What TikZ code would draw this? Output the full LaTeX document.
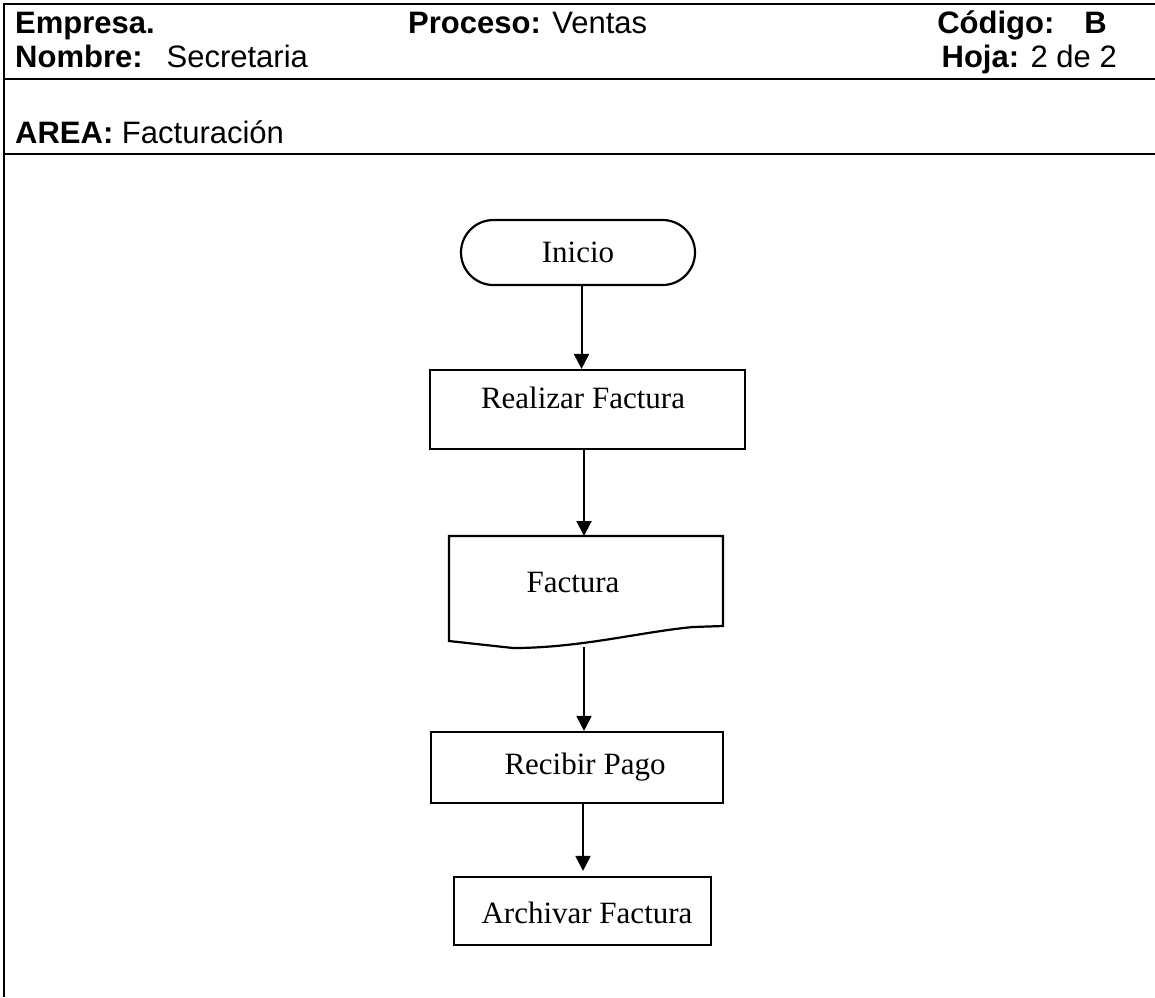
\documentclass[tikz,border=0pt]{standalone}
\usepackage{fontspec}
\setmainfont{Liberation Serif}
\newfontfamily\hdrfont{Liberation Sans}
\usetikzlibrary{arrows.meta,shapes.misc,calc}
\begin{document}
\begin{tikzpicture}[x=1pt,y=-1pt,
  hdr/.style={inner sep=0pt,anchor=base west,font=\hdrfont\fontsize{31}{36}\selectfont},
  frame/.style={line width=2.6pt},
  lbl/.style={inner sep=0pt,font=\fontsize{31}{36}\selectfont},
  procbox/.style={draw,line width=2.2pt,rectangle,inner sep=0pt},
  flow/.style={line width=2pt,-{Triangle[width=15pt,length=15pt]}}]
\useasboundingbox (0,0) rectangle (1155,997);
% page frame and header rules
\draw[frame] (1155,4) -- (4,4) -- (4,997);
\draw[frame] (4,79) -- (1155,79);
\draw[frame] (4,154) -- (1155,154);
% header texts
\node[hdr] (emp) at (15,33) {\textbf{Empresa.}};
\node[hdr] (nom) at (15,67) {\textbf{Nombre:}\hspace{24pt}Secretaria};
\node[hdr] (pro) at (408,33) {\textbf{Proceso:} Ventas};
\node[hdr,anchor=base east] (cod) at (1107,33) {\textbf{Código:}\hspace{30pt}\textbf{B}};
\node[hdr,anchor=base east] (hoj) at (1117,67) {\textbf{Hoja:} 2 de 2};
\node[hdr] (area) at (15,143) {\textbf{AREA:} Facturación};
% flowchart
\node[draw,line width=2.2pt,rounded rectangle,minimum width=234pt,minimum height=65pt,
      inner sep=0pt,lbl] (ini) at (578,252.5) {Inicio};
\node[procbox,minimum width=315pt,minimum height=79pt] (rea) at (587.5,409.5) {};
\node[lbl] (reatxt) at (583,398) {Realizar Factura};
% document symbol
\coordinate (facN) at (584,536);
\coordinate (facS) at (584,647);
\draw[line width=2.2pt,line join=miter] (449,536) -- (723,536) -- (723,626) -- (693,627)
   .. controls (640,632) and (580,648) .. (513,648) -- (449,641) -- cycle;
\node[lbl] (fac) at (573,582) {Factura};
\node[procbox,minimum width=292pt,minimum height=71pt] (rec) at (577,767.5) {};
\node[lbl] (rectxt) at (585,767) {Recibir Pago};
\node[procbox,minimum width=257pt,minimum height=68pt] (arc) at (582.5,911) {};
\node[lbl] (arctxt) at (587,913) {Archivar Factura};
% connectors
\draw[flow] (ini.south -| rea.north) ++(-6,0) coordinate (a1) -- (a1 |- rea.north);
\draw[flow] (rea.south -| facN) -- (facN);
\draw[flow] (facS) -- (facS |- rec.north);
\draw[flow,shorten >=5pt] (rec.south -| 583,0) -- (583,0 |- arc.north);
\end{tikzpicture}
\end{document}
